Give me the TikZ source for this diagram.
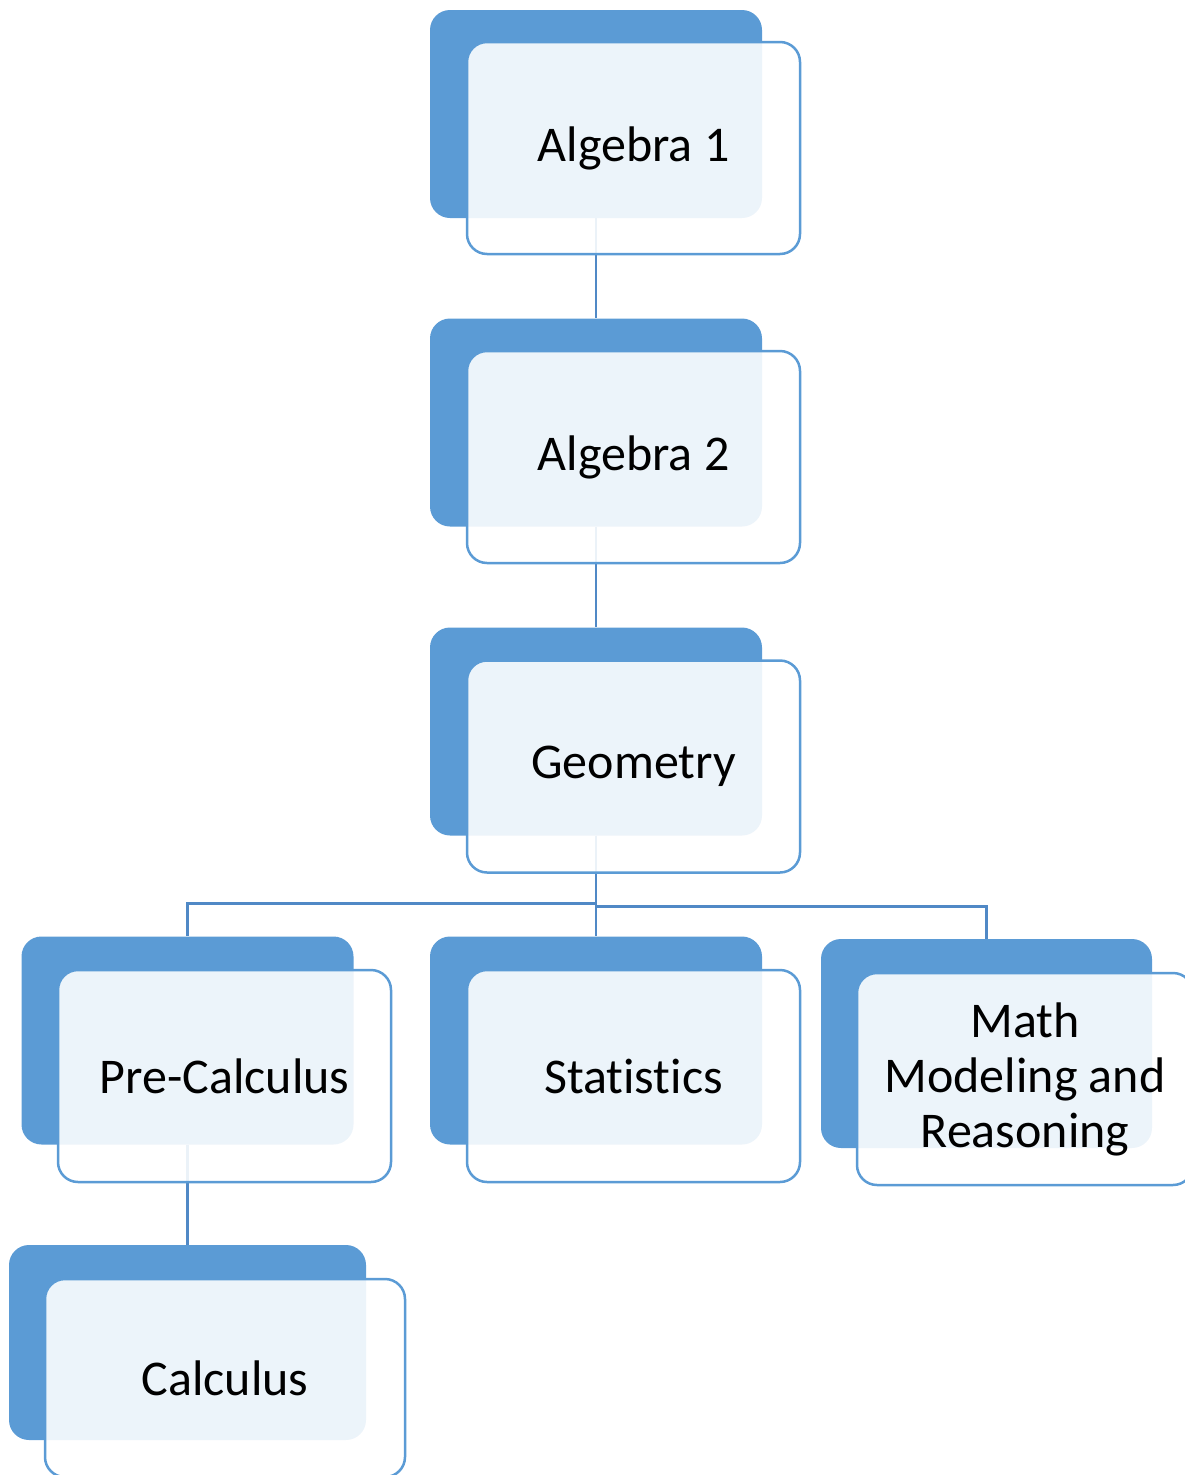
\documentclass[tikz,border=0pt]{standalone}
\usepackage{fontspec}
\setmainfont[Ligatures=NoCommon]{Carlito}
\definecolor{boxblue}{HTML}{5B9BD5}
\definecolor{linkblue}{HTML}{5089C6}
\begin{document}
\begin{tikzpicture}[x=1pt,y=-1pt,
  back/.style={rectangle,rounded corners=20pt,fill=boxblue,draw=none,inner sep=0pt,
    minimum width=332pt,minimum height=208pt},
  front/.style={rectangle,rounded corners=20pt,fill=white,fill opacity=0.89,text opacity=1,
    draw=boxblue,draw opacity=1,line width=2.5pt,inner sep=0pt,
    minimum width=333pt,minimum height=212pt,align=center,
    font=\fontsize{50}{55}\selectfont},
  link/.style={draw=linkblue,line width=2.5pt}]
\useasboundingbox (0,0) rectangle (1185,1475);
\clip (0,0) rectangle (1185,1475);
% back boxes
\node[back] (b1) at (596,114) {};
\node[back] (b2) at (596,422.5) {};
\node[back] (b3) at (596,731.5) {};
\node[back] (b4) at (187.5,1040.5) {};
\node[back] (b5) at (596,1040.5) {};
\node[back,minimum width=331pt,minimum height=209pt] (b6) at (986.5,1043.5) {};
\node[back,minimum width=357pt,minimum height=195pt] (b7) at (187.5,1342.5) {};
% connectors
\draw[link] (b1.south) -- (b2.north);
\draw[link] (b2.south) -- (b3.north);
\draw[link] (b3.south) -- ++(0,68) -| (b4.north);
\draw[link] (b3.south) -- (b5.north);
\draw[link] (b3.south) -- ++(0,71) -| (b6.north);
\draw[link] (b4.south) -- (b7.north);
% front boxes
\node[front] (f1) at (633.5,148) {Algebra 1};
\node[front] (f2) at (633.5,457) {Algebra 2};
\node[front] (f3) at (633.5,766.5) {Geometry};
\node[front] (f4) at (224.5,1076) {Pre-Calculus};
\node[front] (f5) at (633.5,1076) {Statistics};
\node[front,minimum width=336pt] (f6) at (1025,1079) {Math\\Modeling and\\Reasoning};
\node[front,minimum width=360pt,minimum height=198pt] (f7) at (225,1378) {Calculus};
\end{tikzpicture}
\end{document}
